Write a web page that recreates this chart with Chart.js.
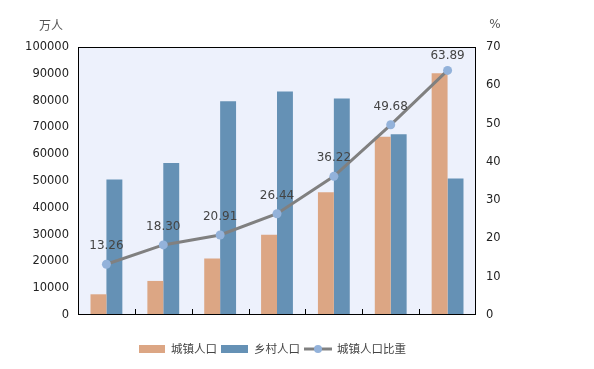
<!DOCTYPE html>
<html><head><meta charset="utf-8">
<script src="https://cdn.jsdelivr.net/npm/chart.js@4"></script>
<style>html,body{margin:0;padding:0;background:#fff}#wrap{width:594px;height:369px}</style>
</head><body><div id="wrap"><canvas id="c" width="594" height="369"></canvas></div>
<script>
const categories = ['1953','1964','1982','1990','2000','2010','2020'];
const urbanPop = [7726, 12710, 21082, 29971, 45844, 66557, 90199];
const ruralPop = [50534, 56748, 79736, 83397, 80739, 67415, 50979];
const urbanRate = [13.26, 18.30, 20.91, 26.44, 36.22, 49.68, 63.89];
const leftTicks = [0,10000,20000,30000,40000,50000,60000,70000,80000,90000,100000];
const rightTicks = [0,10,20,30,40,50,60,70];
const seriesNames = ['城镇人口','乡村人口','城镇人口比重'];

const TAN = '#dca684', BLUE = '#6591b5', LINE = '#808080', PT = '#93b2da';
const tickFont = {family:'DejaVu Sans', size:11.5};
const cjk = '"Noto Sans CJK SC", sans-serif';

const deco = {
  id:'deco',
  beforeDraw(chart){
    const {ctx, chartArea:a} = chart;
    ctx.save(); ctx.fillStyle='#edf1fc';
    ctx.fillRect(a.left, a.top, a.right-a.left, a.bottom-a.top); ctx.restore();
  },
  afterDatasetsDraw(chart){
    const {ctx, chartArea:a} = chart;
    const xs = chart.scales.x;
    ctx.save();
    ctx.strokeStyle='#000'; ctx.lineWidth=1;
    ctx.strokeRect(Math.round(a.left)+0.5, Math.round(a.top)+0.5, Math.round(a.right-a.left)-1, Math.round(a.bottom-a.top)-1);
    for(let i=1;i<categories.length;i++){
      const x = Math.round((xs.getPixelForValue(i-1)+xs.getPixelForValue(i))/2)+0.5;
      ctx.beginPath(); ctx.moveTo(x, a.bottom); ctx.lineTo(x, a.bottom-6); ctx.stroke();
    }
    // value labels
    const meta = chart.getDatasetMeta(0);
    ctx.fillStyle='#444'; ctx.font='12px "DejaVu Sans"'; ctx.textAlign='center'; ctx.textBaseline='middle';
    meta.data.forEach((p,i)=>{
      const y = Math.max(p.y-18, a.top+9);
      ctx.fillText(urbanRate[i].toFixed(2), p.x, y);
    });
    // axis titles
    ctx.fillStyle='#555'; ctx.font='12px '+cjk;
    ctx.fillText('万人', 51, 25);
    ctx.font='12px "DejaVu Sans"';
    ctx.fillText('%', 495, 25);
    // legend
    ctx.font='11.5px '+cjk; ctx.textAlign='left'; ctx.fillStyle='#444';
    let x = 139; const y = 349;
    ctx.fillStyle=TAN; ctx.fillRect(x, y-4, 26, 8); x+=32;
    ctx.fillStyle='#444'; ctx.fillText(seriesNames[0], x, y); x += ctx.measureText(seriesNames[0]).width+4;
    ctx.fillStyle=BLUE; ctx.fillRect(x, y-4, 27, 8); x+=33;
    ctx.fillStyle='#444'; ctx.fillText(seriesNames[1], x, y); x += ctx.measureText(seriesNames[1]).width+4;
    ctx.strokeStyle=LINE; ctx.lineWidth=3; ctx.beginPath(); ctx.moveTo(x, y); ctx.lineTo(x+28, y); ctx.stroke();
    ctx.fillStyle=PT; ctx.beginPath(); ctx.arc(x+14, y, 4, 0, Math.PI*2); ctx.fill(); x+=33;
    ctx.fillStyle='#444'; ctx.fillText(seriesNames[2], x, y);
    ctx.restore();
  }
};

new Chart(document.getElementById('c'), {
  data:{
    labels: categories,
    datasets:[
      {type:'line', label:seriesNames[2], data:urbanRate, yAxisID:'y1', order:0,
       borderColor:LINE, borderWidth:3, pointRadius:4.5, pointBackgroundColor:PT, pointBorderColor:PT, pointBorderWidth:0, tension:0},
      {type:'bar', label:seriesNames[0], data:urbanPop, yAxisID:'y', order:1, backgroundColor:TAN,
       categoryPercentage:0.56, barPercentage:1.0},
      {type:'bar', label:seriesNames[1], data:ruralPop, yAxisID:'y', order:1, backgroundColor:BLUE,
       categoryPercentage:0.56, barPercentage:1.0}
    ]
  },
  options:{
    responsive:false, devicePixelRatio:1, animation:false,
    layout:{padding:{top:47, left:0, right:0, bottom:0}},
    plugins:{legend:{display:false}, tooltip:{enabled:false}},
    scales:{
      x:{offset:true, grid:{display:false}, border:{display:false}, ticks:{display:false},
         afterFit(s){s.height=54;}},
      y:{position:'left', min:0, max:100000,
         afterBuildTicks(s){s.ticks = leftTicks.map(v=>({value:v}));},
         ticks:{font:tickFont, color:'#222', padding:9, callback:v=>String(v)},
         grid:{display:false, drawTicks:false}, border:{display:false},
         afterFit(s){s.width=78;}},
      y1:{position:'right', min:0, max:70,
         afterBuildTicks(s){s.ticks = rightTicks.map(v=>({value:v}));},
         ticks:{font:tickFont, color:'#222', padding:10, callback:v=>String(v)},
         grid:{display:false, drawTicks:false}, border:{display:false},
         afterFit(s){s.width=118;}}
    }
  },
  plugins:[deco]
});
</script></body></html>
